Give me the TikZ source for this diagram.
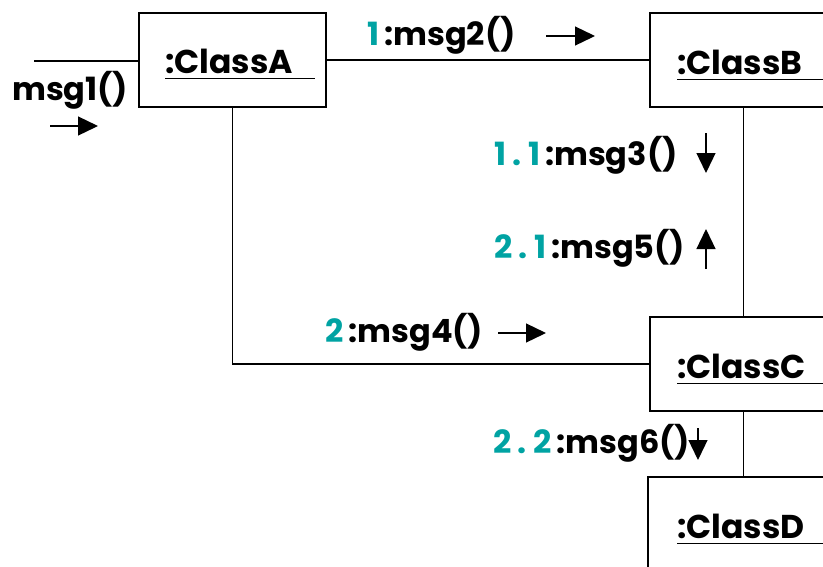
\documentclass[tikz,border=0pt]{standalone}
\usepackage{fontspec}
\setmainfont{Poppins}[BoldFont={* Bold}]
\usetikzlibrary{arrows.meta}
\definecolor{seqnum}{RGB}{0,163,163}
\tikzset{
  x=1pt, y=-1pt,
  objbox/.style={draw, line width=1.6pt, minimum width=187pt, minimum height=94pt, inner sep=0pt},
  objname/.style={anchor=base west, inner sep=0pt, text depth=5.5pt, font=\fontsize{33}{33}\selectfont\bfseries},
  underl/.style={line width=1.4pt},
  link/.style={line width=1.6pt},
  msglabel/.style={anchor=base west, inner sep=0pt, font=\fontsize{32}{32}\selectfont\bfseries},
  msgarrow/.style={line width=1.3pt, -{Triangle[length=20pt,width=19pt]}},
}
% sequence number: spaced-out digits in teal
\newcommand{\seq}[1]{{\addfontfeatures{LetterSpace=20}\textcolor{seqnum}{#1}}\kern5pt}
\begin{document}
\begin{tikzpicture}
\useasboundingbox (0,0) rectangle (823,566);

% object boxes
\node[objbox] (A) at (232.5,60) {};
\node[objbox] (B) at (743.5,60) {};
\node[objbox] (C) at (743.5,364) {};
\node[objbox] (D) at (741.5,524) {};

% object names, underlined
\node[objname, text width=150pt] (An) at (165,73) {:ClassA};
\node[objname, text width=150pt] (Bn) at (677,74) {:ClassB};
\node[objname, text width=150pt] (Cn) at (677,378) {:ClassC};
\node[objname, text width=150pt] (Dn) at (677,538) {:ClassD};
\foreach \n in {An,Bn,Cn,Dn}
  \draw[underl] (\n.south west) -- (\n.south east);

% links
\coordinate (in) at (34,61);
\draw[link] (in) -- (in -| A.west);
\draw[link] (A.east) -- (B.west);
\draw[link] (B.south) -- (C.north);
\draw[link] (A.south) |- (C.west);
\draw[link] (C.south) -- (C.south |- D.north);

% messages
\node[msglabel] (m1) at (12,100) {msg1()};
\node[msglabel] (m2) at (367,45) {\seq{1}:msg2()};
\node[msglabel] (m3) at (494,165) {\seq{1.1}:msg3()};
\node[msglabel] (m5) at (494,258) {\seq{2.1}:msg5()};
\node[msglabel] (m4) at (325,342) {\seq{2}:msg4()};
\node[msglabel] (m6) at (493,453) {\seq{2.2}:msg6()};

% direction arrows
\draw[msgarrow] (50,126) -- (98,126);
\draw[msgarrow] (546,36) -- (595,36);
\draw[msgarrow] (706,133) -- (706,173);
\draw[msgarrow] (706,269) -- (706,229);
\draw[msgarrow] (498,333) -- (546,333);
\draw[msgarrow] (698,428) -- (698,460);
\end{tikzpicture}
\end{document}
